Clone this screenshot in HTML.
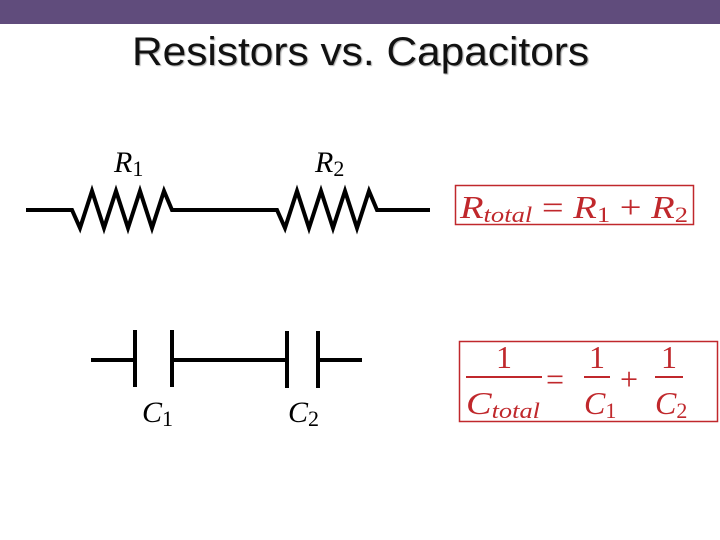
<!DOCTYPE html>
<html><head><style>
body{margin:0;width:720px;height:540px;background:#fff;overflow:hidden;position:relative;font-family:"Liberation Sans",sans-serif}
.bar{position:absolute;left:0;top:0;width:720px;height:24px;background:#604c7c}
.title{position:absolute;left:132px;top:30px;font-size:40px;white-space:nowrap;color:#111;text-shadow:1px 1px 1px #aaa;transform-origin:left top;transform:scaleX(1.06)}
svg{position:absolute;left:0;top:0}
</style></head><body>
<div class="bar"></div>
<div class="title">Resistors vs. Capacitors</div>
<svg width="720" height="540" font-family="Liberation Serif, serif">
<g fill="none" stroke="#000" stroke-width="4" stroke-linejoin="miter">
<polyline points="26,210 72,210 80,228 92,191 104,228 116,191 128,228 140,191 152,228 164,191 172,210 277,210 285,228 297,191 309,228 321,191 333,228 345,191 357,228 369,191 377,210 430,210"/>
<line x1="91" y1="360" x2="135" y2="360"/><line x1="135" y1="330" x2="135" y2="387"/>
<line x1="172" y1="330" x2="172" y2="387"/><line x1="172" y1="360" x2="287" y2="360"/>
<line x1="287" y1="331" x2="287" y2="388"/><line x1="318" y1="331" x2="318" y2="388"/>
<line x1="318" y1="360" x2="362" y2="360"/>
</g>
<g font-style="italic" font-size="30" fill="#000">
<text x="114" y="172">R<tspan font-style="normal" font-size="22" dy="4">1</tspan></text>
<text x="315" y="172">R<tspan font-style="normal" font-size="22" dy="4">2</tspan></text>
<text x="142" y="422">C<tspan font-style="normal" font-size="22" dy="4">1</tspan></text>
<text x="288" y="422">C<tspan font-style="normal" font-size="22" dy="4">2</tspan></text>
</g>
<rect x="455.5" y="185.5" width="238" height="39" fill="none" stroke="#c0282c" stroke-width="1.5"/>
<g fill="#c0282c" font-size="32">
<text x="460" y="218" textLength="228" lengthAdjust="spacingAndGlyphs"><tspan font-style="italic">R</tspan><tspan font-style="italic" font-size="22" dy="4">total</tspan><tspan dy="-4"> = </tspan><tspan font-style="italic">R</tspan><tspan font-size="22" dy="4">1</tspan><tspan dy="-4"> + </tspan><tspan font-style="italic">R</tspan><tspan font-size="22" dy="4">2</tspan></text>
</g>
<rect x="459.5" y="341.5" width="258" height="80" fill="none" stroke="#c0282c" stroke-width="1.5"/>
<g fill="#c0282c" font-size="32" stroke="none">
<text x="496" y="368">1</text>
<rect x="466" y="376" width="76" height="2"/>
<text x="466" y="414" font-style="italic" textLength="74" lengthAdjust="spacingAndGlyphs">C<tspan font-size="22" dy="4">total</tspan></text>
<text x="546" y="390">=</text>
<text x="589" y="368">1</text>
<rect x="584" y="376" width="26" height="2"/>
<text x="584" y="414" font-style="italic">C<tspan font-style="normal" font-size="22" dy="4">1</tspan></text>
<text x="620" y="390">+</text>
<text x="661" y="368">1</text>
<rect x="655" y="376" width="28" height="2"/>
<text x="655" y="414" font-style="italic">C<tspan font-style="normal" font-size="22" dy="4">2</tspan></text>
</g>
</svg>
</body></html>
